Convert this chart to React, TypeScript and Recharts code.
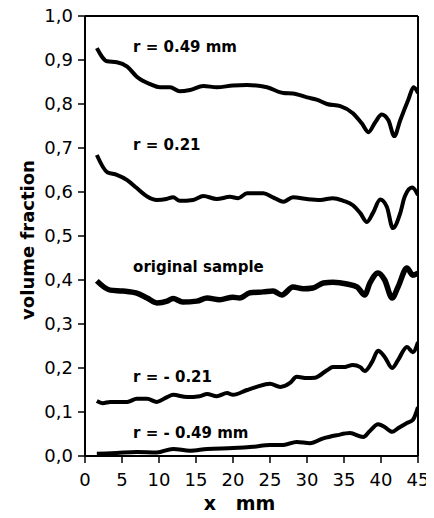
import React from 'react';
import { LineChart, Line, XAxis, YAxis, ReferenceLine, ReferenceDot } from 'recharts';

const xTicks = [0, 5, 10, 15, 20, 25, 30, 35, 40, 45];
const yTicks = [0, 0.1, 0.2, 0.3, 0.4, 0.5, 0.6, 0.7, 0.8, 0.9, 1.0];

const rPos49 = [
  { x: 1.6, v: 0.927 }, { x: 3.0, v: 0.897 }, { x: 4.3, v: 0.895 }, { x: 5.7, v: 0.885 },
  { x: 7.0, v: 0.862 }, { x: 8.8, v: 0.845 }, { x: 10.1, v: 0.838 }, { x: 11.5, v: 0.838 },
  { x: 12.8, v: 0.829 }, { x: 14.2, v: 0.832 }, { x: 16.0, v: 0.841 }, { x: 17.8, v: 0.838 },
  { x: 20.0, v: 0.842 }, { x: 21.9, v: 0.843 }, { x: 24.6, v: 0.838 }, { x: 26.8, v: 0.825 },
  { x: 28.1, v: 0.824 }, { x: 30.0, v: 0.815 }, { x: 31.3, v: 0.81 }, { x: 32.7, v: 0.8 },
  { x: 34.5, v: 0.795 }, { x: 36.2, v: 0.779 }, { x: 37.4, v: 0.756 }, { x: 38.3, v: 0.736 },
  { x: 39.2, v: 0.758 }, { x: 40.1, v: 0.776 }, { x: 41.0, v: 0.763 }, { x: 41.8, v: 0.727 },
  { x: 42.6, v: 0.763 }, { x: 43.7, v: 0.81 }, { x: 44.4, v: 0.838 }, { x: 45.0, v: 0.825 },
];

const rPos21 = [
  { x: 1.6, v: 0.684 }, { x: 3.0, v: 0.645 }, { x: 4.3, v: 0.639 }, { x: 5.7, v: 0.627 },
  { x: 7.0, v: 0.609 }, { x: 8.4, v: 0.59 }, { x: 9.7, v: 0.582 }, { x: 11.0, v: 0.584 },
  { x: 11.9, v: 0.588 }, { x: 12.8, v: 0.58 }, { x: 14.6, v: 0.582 }, { x: 16.0, v: 0.591 },
  { x: 17.8, v: 0.584 }, { x: 19.6, v: 0.589 }, { x: 20.7, v: 0.586 }, { x: 21.9, v: 0.597 },
  { x: 24.1, v: 0.597 }, { x: 25.4, v: 0.588 }, { x: 26.8, v: 0.578 }, { x: 28.1, v: 0.588 },
  { x: 30.0, v: 0.584 }, { x: 31.8, v: 0.582 }, { x: 33.5, v: 0.586 }, { x: 34.9, v: 0.58 },
  { x: 36.2, v: 0.57 }, { x: 37.2, v: 0.552 }, { x: 38.1, v: 0.532 }, { x: 38.9, v: 0.552 },
  { x: 39.9, v: 0.583 }, { x: 40.8, v: 0.566 }, { x: 41.6, v: 0.518 }, { x: 42.6, v: 0.552 },
  { x: 43.2, v: 0.589 }, { x: 44.2, v: 0.61 }, { x: 45.0, v: 0.593 },
];

const original = [
  { x: 1.6, v: 0.398 }, { x: 3.4, v: 0.377 }, { x: 5.1, v: 0.375 }, { x: 7.0, v: 0.37 },
  { x: 8.4, v: 0.359 }, { x: 9.7, v: 0.348 }, { x: 11.1, v: 0.352 }, { x: 11.9, v: 0.358 },
  { x: 13.2, v: 0.35 }, { x: 15.1, v: 0.352 }, { x: 16.5, v: 0.359 }, { x: 18.2, v: 0.355 },
  { x: 20.0, v: 0.361 }, { x: 20.9, v: 0.359 }, { x: 22.3, v: 0.371 }, { x: 24.1, v: 0.373 },
  { x: 25.4, v: 0.375 }, { x: 26.6, v: 0.366 }, { x: 28.1, v: 0.384 }, { x: 29.5, v: 0.38 },
  { x: 30.8, v: 0.382 }, { x: 32.2, v: 0.393 }, { x: 33.5, v: 0.395 }, { x: 35.4, v: 0.391 },
  { x: 36.8, v: 0.384 }, { x: 37.8, v: 0.366 }, { x: 38.5, v: 0.393 }, { x: 39.6, v: 0.416 },
  { x: 40.5, v: 0.4 }, { x: 41.5, v: 0.359 }, { x: 42.3, v: 0.384 }, { x: 43.5, v: 0.427 },
  { x: 44.3, v: 0.411 }, { x: 45.0, v: 0.416 },
];

const rNeg21 = [
  { x: 1.6, v: 0.125 }, { x: 2.4, v: 0.12 }, { x: 3.4, v: 0.123 }, { x: 5.7, v: 0.123 },
  { x: 7.0, v: 0.13 }, { x: 8.4, v: 0.13 }, { x: 9.7, v: 0.123 }, { x: 11.1, v: 0.134 },
  { x: 11.9, v: 0.139 }, { x: 13.8, v: 0.134 }, { x: 15.5, v: 0.136 }, { x: 16.5, v: 0.141 },
  { x: 17.8, v: 0.136 }, { x: 19.2, v: 0.143 }, { x: 20.0, v: 0.139 }, { x: 21.9, v: 0.15 },
  { x: 23.2, v: 0.157 }, { x: 25.0, v: 0.164 }, { x: 26.4, v: 0.157 }, { x: 27.7, v: 0.166 },
  { x: 28.6, v: 0.18 }, { x: 30.0, v: 0.177 }, { x: 31.1, v: 0.178 }, { x: 32.7, v: 0.195 },
  { x: 33.5, v: 0.202 }, { x: 34.9, v: 0.202 }, { x: 36.2, v: 0.207 }, { x: 37.2, v: 0.202 },
  { x: 37.8, v: 0.193 }, { x: 38.8, v: 0.214 }, { x: 39.6, v: 0.239 }, { x: 40.5, v: 0.225 },
  { x: 41.5, v: 0.2 }, { x: 42.3, v: 0.218 }, { x: 43.5, v: 0.248 }, { x: 44.3, v: 0.236 },
  { x: 45.0, v: 0.259 },
];

const rNeg49 = [
  { x: 1.6, v: 0.005 }, { x: 4.3, v: 0.007 }, { x: 7.0, v: 0.009 }, { x: 9.7, v: 0.008 },
  { x: 11.9, v: 0.016 }, { x: 14.2, v: 0.012 }, { x: 16.5, v: 0.016 }, { x: 20.0, v: 0.018 },
  { x: 22.7, v: 0.021 }, { x: 25.0, v: 0.025 }, { x: 26.8, v: 0.025 }, { x: 28.6, v: 0.032 },
  { x: 30.4, v: 0.029 }, { x: 32.2, v: 0.04 }, { x: 34.0, v: 0.047 }, { x: 35.8, v: 0.052 },
  { x: 37.6, v: 0.043 }, { x: 38.5, v: 0.057 }, { x: 39.6, v: 0.072 }, { x: 40.5, v: 0.066 },
  { x: 41.5, v: 0.055 }, { x: 42.3, v: 0.063 }, { x: 43.5, v: 0.075 }, { x: 44.3, v: 0.082 },
  { x: 45.0, v: 0.111 },
];

const annotations = [
  { x: 6.5, y: 0.93, text: 'r = 0.49 mm' },
  { x: 6.5, y: 0.707, text: 'r = 0.21' },
  { x: 6.5, y: 0.43, text: 'original sample' },
  { x: 6.5, y: 0.18, text: 'r = - 0.21' },
  { x: 6.5, y: 0.052, text: 'r = - 0.49 mm' },
];

const FONT = 'DejaVu Sans';

const YLabel = (props: any) => {
  const vb = props.viewBox || {};
  const cx = vb.x + 27;
  const cy = vb.y + vb.height / 2 + 4;
  return (
    <text
      x={cx}
      y={cy}
      transform={`rotate(-90, ${cx}, ${cy})`}
      textAnchor="middle"
      dominantBaseline="central"
      fontFamily={FONT}
      fontWeight="bold"
      fontSize={18}
      fill="#000"
    >
      volume fraction
    </text>
  );
};

const XLabel = (props: any) => {
  const vb = props.viewBox || {};
  return (
    <text
      x={vb.x + vb.width / 2 - 12}
      y={vb.y + 54}
      textAnchor="middle"
      fontFamily={FONT}
      fontWeight="bold"
      fontSize={19}
      fill="#000"
    >
      {'x\u00a0\u00a0\u00a0mm'}
    </text>
  );
};

export default function App() {
  const lineProps = {
    dataKey: 'v',
    stroke: '#000',
    dot: false,
    type: 'monotone' as const,
    isAnimationActive: false,
  };
  return (
    <div style={{ position: 'relative', left: -8, top: -8, width: 434, height: 518 }}>
      <LineChart width={434} height={518} margin={{ top: 16, right: 16, bottom: 0, left: 0 }}>
        <XAxis
          dataKey="x"
          type="number"
          domain={[0, 45]}
          ticks={xTicks}
          allowDataOverflow
          height={62}
          tickSize={7}
          tickMargin={10}
          axisLine={{ stroke: '#000', strokeWidth: 2 }}
          tickLine={{ stroke: '#000', strokeWidth: 1.5 }}
          tick={{ fill: '#000', fontSize: 18, fontFamily: FONT }}
          interval={0}
          label={<XLabel />}
        />
        <YAxis
          type="number"
          domain={[0, 1]}
          ticks={yTicks}
          width={85}
          tickSize={7}
          tickMargin={5}
          interval={0}
          axisLine={{ stroke: '#000', strokeWidth: 2 }}
          tickLine={{ stroke: '#000', strokeWidth: 1.5 }}
          tick={{ fill: '#000', fontSize: 18, fontFamily: FONT }}
          tickFormatter={(v: number) => v.toFixed(1).replace('.', ',')}
          label={<YLabel />}
        />
        <ReferenceLine y={1} stroke="#000" strokeWidth={2} ifOverflow="extendDomain" />
        <ReferenceLine x={45} stroke="#000" strokeWidth={2} ifOverflow="extendDomain" />
        <Line {...lineProps} data={rPos49} strokeWidth={4} />
        <Line {...lineProps} data={rPos21} strokeWidth={4} />
        <Line {...lineProps} data={original} strokeWidth={5.5} />
        <Line {...lineProps} data={rNeg21} strokeWidth={4} />
        <Line {...lineProps} data={rNeg49} strokeWidth={4} />
        {annotations.map((a) => (
          <ReferenceDot
            key={a.text}
            x={a.x}
            y={a.y}
            r={0}
            fill="none"
            stroke="none"
            label={{
              value: a.text,
              position: 'right',
              offset: 0,
              fill: '#000',
              fontSize: 15,
              fontWeight: 'bold',
              fontFamily: FONT,
            }}
          />
        ))}
      </LineChart>
    </div>
  );
}
